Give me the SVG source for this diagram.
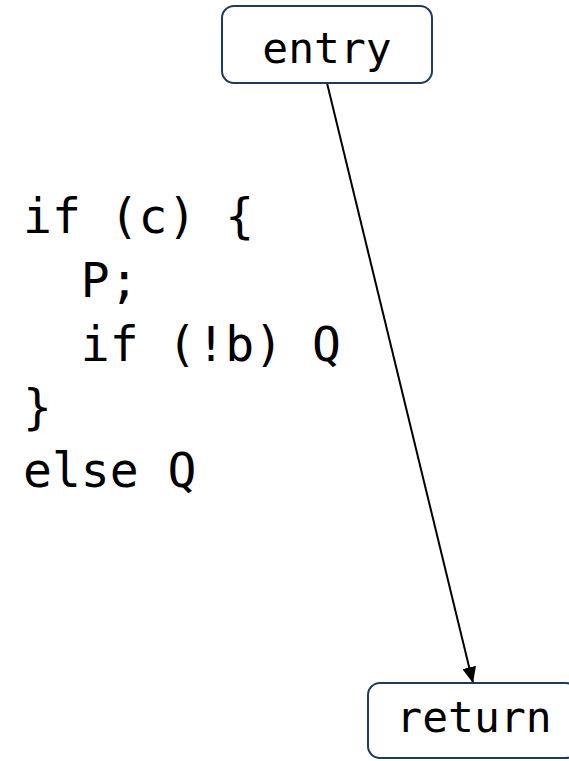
<svg xmlns="http://www.w3.org/2000/svg" width="569" height="761" viewBox="0 0 569 761">
<style>
.box{fill:#fff;stroke:#1f3a5f;stroke-width:2}
.lbl{font-family:"DejaVu Sans Mono","Liberation Mono",monospace;font-size:43px;fill:#000;text-anchor:middle}
.code{font-family:"DejaVu Sans Mono","Liberation Mono",monospace;font-size:48px;fill:#000;white-space:pre}
.edge{stroke:#000;stroke-width:2;fill:none}
</style>
<defs>
<marker id="arr" viewBox="0 0 16 14" refX="16" refY="7" markerWidth="16" markerHeight="14" markerUnits="userSpaceOnUse" orient="auto">
<path d="M0,0 L16,7 L0,14 z" fill="#000"/>
</marker>
</defs>
<rect width="569" height="761" fill="#fff"/>
<g id="code">
<text class="code" x="23" y="233" xml:space="preserve">if (c) {</text>
<text class="code" x="23" y="297" xml:space="preserve">  P;</text>
<text class="code" x="23" y="361" xml:space="preserve">  if (!b) Q</text>
<text class="code" x="23" y="424" xml:space="preserve">}</text>
<text class="code" x="23" y="487" xml:space="preserve">else Q</text>
</g>
<g id="connectors">
<line class="edge" x1="327" y1="83" x2="473" y2="683" marker-end="url(#arr)"/>
</g>
<g id="entry">
<rect class="box" x="222" y="6" width="210" height="77" rx="12"/>
<text class="lbl" x="327" y="63">entry</text>
</g>
<g id="return">
<rect class="box" x="368" y="683" width="210" height="75" rx="12"/>
<text class="lbl" x="474" y="732">return</text>
</g>
</svg>
